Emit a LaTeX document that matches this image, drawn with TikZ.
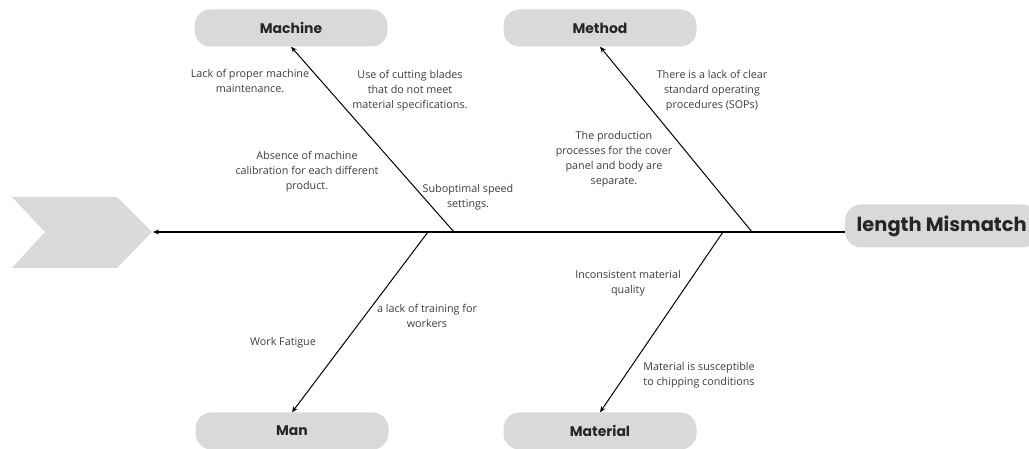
\documentclass[tikz,border=0pt]{standalone}
\usepackage{fontspec}
\setmainfont{Open Sans}
\newfontfamily\headfont{Poppins}
\usetikzlibrary{arrows.meta}
\definecolor{boxgray}{HTML}{D9D9D9}
\definecolor{txtgray}{HTML}{3C3C3C}
\tikzset{
  cat/.style={fill=boxgray, rounded corners=16bp, minimum width=193bp, minimum height=37bp,
    font=\headfont\bfseries\fontsize{14}{16}\selectfont, text=black!85},
  cause/.style={align=center, text=txtgray, inner sep=1pt, font=\fontsize{10.8}{15}\selectfont},
  bone/.style={-{Stealth[length=6pt,width=5pt]}, line width=1pt},
}
\begin{document}
\begin{tikzpicture}[x=1bp, y=-1bp]
\useasboundingbox (0,0) rectangle (1029,449);
% head and tail
\fill[boxgray] (12,197) -- (117,197) -- (152,232) -- (117,268) -- (12,268) -- (45,232) -- cycle;
\coordinate (head) at (153,232);
\node[cat, anchor=west, minimum height=43bp, inner xsep=9bp, font=\headfont\bfseries\fontsize{19.5}{22}\selectfont] (lm) at (845,226) {length Mismatch};
\draw[bone, line width=1.4pt] (lm.west |- head) -- (head);

% categories
\node[cat] (machine) at (291,28) {Machine};
\node[cat] (method) at (600,28) {Method};
\node[cat] (man) at (292,431) {Man};
\node[cat] (material) at (600,431) {Material};

\coordinate (b1) at (454,232);
\coordinate (b2) at (752,232);
\coordinate (b3) at (428,232);
\coordinate (b4) at (723,232);
\draw[bone] (b1) -- (machine.south);
\draw[bone] (b2) -- (method.south);
\draw[bone] (b3) -- (man.north);
\draw[bone] (b4) -- (material.north);

% causes
\node[cause] (c1) at (250,81) {Lack of proper machine\\maintenance.};
\node[cause] (c2) at (410,91) {Use of cutting blades\\that do not meet\\material specifications.};
\node[cause] (c3) at (307,172) {Absence of machine\\calibration for each different\\product.};
\node[cause] (c4) at (468,197) {Suboptimal speed\\settings.};
\node[cause] (c5) at (712,91) {There is a lack of clear\\standard operating\\procedures (SOPs)};
\node[cause] (c6) at (614,159) {The production\\processes for the cover\\panel and body are\\separate.};
\node[cause] (c7) at (427,316) {a lack of training for\\workers};
\node[cause] (c8) at (283,343) {Work Fatigue};
\node[cause] (c9) at (628,283) {Inconsistent material\\quality};
\node[cause] (c10) at (699,375) {Material is susceptible\\to chipping conditions};
\end{tikzpicture}
\end{document}
